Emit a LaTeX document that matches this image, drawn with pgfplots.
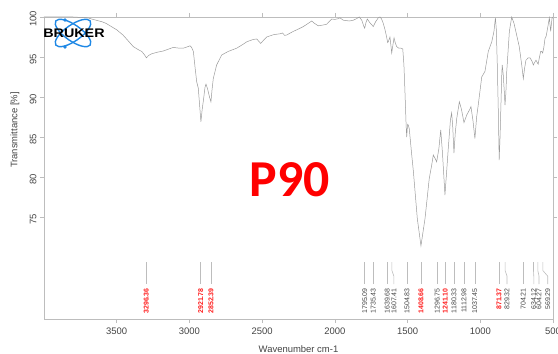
\documentclass[border=0pt]{standalone}
\usepackage{pgfplots}
\pgfplotsset{compat=1.18}
\usepackage{fontspec}
\setmainfont{Liberation Sans}
\newfontfamily\calfont{Carlito}
\definecolor{curve}{HTML}{9A9A9A}
\definecolor{axgray}{HTML}{BDBDBD}
\definecolor{txtgray}{HTML}{444444}
\definecolor{brukerblue}{HTML}{1E88E5}
\definecolor{pkred}{HTML}{FF1A1A}

\newcommand{\peak}[4]{%
  \addplot[color=axgray, line width=0.6pt, no markers] coordinates {(#1,69.35) (#1,68.3) (#2,67.6) (#2,66.6)};
  \node[rotate=90, anchor=east, inner sep=0pt, font=\fontsize{7}{7}\selectfont#4] at (axis cs:#2,66.1) {#3};
}

\begin{document}
\begin{tikzpicture}
\begin{axis}[
  scale only axis,
  width=509bp, height=302bp,
  x dir=reverse,
  xmin=500, xmax=4000,
  ymin=62.25, ymax=100,
  xtick={500,1000,1500,2000,2500,3000,3500},
  ytick={75,80,85,90,95,100},
  tick align=outside,
  major tick length=4bp,
  tick style={color=axgray, line width=0.6pt},
  axis line style={color=axgray, line width=0.6pt},
  /pgf/number format/assume math mode=true,
  /pgf/number format/set thousands separator={},
  ticklabel style={font=\fontsize{9.5}{10}\selectfont, text=txtgray},
  yticklabel style={rotate=90, anchor=south, xshift=-2bp},
  xticklabel style={yshift=-1bp},
  xlabel={Wavenumber cm-1},
  ylabel={Transmittance [\%]},
  label style={font=\fontsize{9.5}{10}\selectfont, text=txtgray},
  x label style={at={(axis description cs:0.5,0)}, anchor=center, yshift=-30bp},
  y label style={at={(axis description cs:-0.057,0.626)}, anchor=center},
  clip=true,
]
\addplot[color=curve, line width=0.5pt, no markers] coordinates {
(4000,100) (3800,100) (3700,99.9) (3663,99.7) (3600,99.4) (3573,99.2)
(3500,98.4) (3457,97.75) (3420,97.0) (3386,96.3) (3350,95.9) (3328,95.7)
(3310,95.3) (3296,94.9) (3280,95.2) (3260,95.4) (3220,95.6) (3180,95.75)
(3111,96.2) (3070,96.1) (3042,96.1) (3010,96.3) (2996,96.4) (2985,96.2)
(2973,95.7) (2960,93.5) (2950,91.9) (2939,91.1) (2930,89.0) (2921,86.9)
(2912,88.5) (2905,89.4) (2893,91.2) (2886,91.6) (2875,91.0) (2862,90.0)
(2852,89.4) (2844,91.0) (2836,92.3) (2813,94.0) (2778,95.25) (2733,95.7)
(2675,96.1) (2630,96.6) (2606,96.9) (2560,97.2) (2537,97.25) (2520,96.9)
(2510,96.7) (2490,97.1) (2469,97.5) (2420,97.8) (2377,97.9) (2360,98.0)
(2345,97.7) (2331,97.75) (2286,98.2) (2250,98.5) (2217,98.8) (2159,99.5)
(2140,99.2) (2114,98.9) (2080,99.0) (2056,99.1) (2022,99.75) (2000,99.7)
(1975,99.8) (1965,99.9) (1942,99.6) (1900,99.5) (1873,99.6) (1850,99.8)
(1832,100) (1815,99.6) (1800,98.8) (1795,98.6) (1786,99.3) (1777,99.75)
(1760,99.3) (1745,99.0) (1736,98.8) (1720,99.4) (1701,99.9) (1690,100)
(1680,99.8) (1667,99.2) (1655,98.4) (1644,97.5) (1637,96.8) (1633,96.9)
(1621,97.5) (1609,95.5) (1600,96.6) (1593,97.4) (1585,96.8) (1575,96.3)
(1560,96.1) (1545,96.1) (1533,96.0) (1525,94) (1518,90.7) (1510,86.5)
(1506,85.0) (1500,86.6) (1495,86.5) (1488,86.0) (1483,85.0) (1470,82.5)
(1460,80.7) (1433,74.8) (1408,71.4) (1380,74.8) (1351,79.8) (1334,81.5)
(1323,82.75) (1310,82.3) (1300,81.9) (1285,83.5) (1272,85.9) (1260,83)
(1243,77.75) (1232,80.5) (1220,83.6) (1205,87.2) (1197,88.0) (1190,86.5)
(1181,83.0) (1172,85.5) (1162,87.3) (1144,89.4) (1130,88.5) (1112,86.8)
(1100,87.4) (1093,87.75) (1071,88.5) (1064,88.8) (1050,87) (1037,84.8)
(1025,87.5) (1014,89.0) (990,92.5) (968,93.2) (945,95.7) (921,96.9)
(906,98.2) (896,99.9) (890,98.5) (883,94) (876,88.2) (870,82.1)
(864,85) (858,89) (852,93) (849,94) (842,92.75) (836,91)
(830,89.0) (824,90.5) (818,93.2) (800,98.2) (784,100) (768,99.2)
(750,97.75) (732,96.3) (715,94) (704,92.3) (696,93.5) (686,94.6)
(670,94.9) (658,94.9) (645,94.5) (635,94.0) (627,94.3) (617,94.6)
(608,94.3) (602,94.1) (595,94.8) (585,95.7) (578,95.7) (571,95.5)
(563,96.2) (555,97.3) (547,97.6) (539,98.4) (525,99.9) (516,98.2)
(507,99.8) (500,100)
};
\peak{3296.36}{3296.36}{3296.36}{\bfseries\color{pkred}}
\peak{2921.78}{2921.78}{2921.78}{\bfseries\color{pkred}}
\peak{2852.39}{2852.39}{2852.39}{\bfseries\color{pkred}}
\peak{1795.09}{1795.09}{1795.09}{\color{txtgray}}
\peak{1735.43}{1735.43}{1735.43}{\color{txtgray}}
\peak{1639.68}{1639.68}{1639.68}{\color{txtgray}}
\peak{1607.41}{1594}{1607.41}{\color{txtgray}}
\peak{1504.83}{1504.83}{1504.83}{\color{txtgray}}
\peak{1408.66}{1408.66}{1408.66}{\bfseries\color{pkred}}
\peak{1296.75}{1296.75}{1296.75}{\color{txtgray}}
\peak{1241.10}{1241.10}{1241.10}{\bfseries\color{pkred}}
\peak{1180.33}{1180.33}{1180.33}{\color{txtgray}}
\peak{1112.98}{1112.98}{1112.98}{\color{txtgray}}
\peak{1037.45}{1037.45}{1037.45}{\color{txtgray}}
\peak{871.37}{871.37}{871.37}{\bfseries\color{pkred}}
\peak{829.32}{816}{829.32}{\color{txtgray}}
\peak{704.21}{704.21}{704.21}{\color{txtgray}}
\peak{634.12}{632}{634.12}{\color{txtgray}}
\peak{604.27}{596}{604.27}{\color{txtgray}}
\peak{569.29}{536}{569.29}{\color{txtgray}}
\end{axis}
% BRUKER logo (decoration)
\begin{scope}[shift={(29bp,286bp)}]
  \draw[brukerblue, line width=1.4pt, rotate=35] (0,0) ellipse [x radius=21bp, y radius=8bp];
  \draw[brukerblue, line width=1.4pt, rotate=-35] (0,0) ellipse [x radius=21bp, y radius=8bp];
  \fill[brukerblue] (-8bp,13bp) circle (1.8bp);
  \fill[brukerblue] (-8bp,-14bp) circle (1.8bp);
  \node[inner sep=0pt, xscale=1.15, font=\fontsize{12.5}{12.5}\selectfont\bfseries] at (1bp,0) {BRUKER};
\end{scope}
\node[text=red, font=\calfont\fontsize{52}{52}\selectfont\bfseries] at (246bp,139bp) {P90};
\pgfresetboundingbox
\path[use as bounding box] (-44bp,-35bp) rectangle (514bp,319bp);
\end{tikzpicture}
\end{document}
